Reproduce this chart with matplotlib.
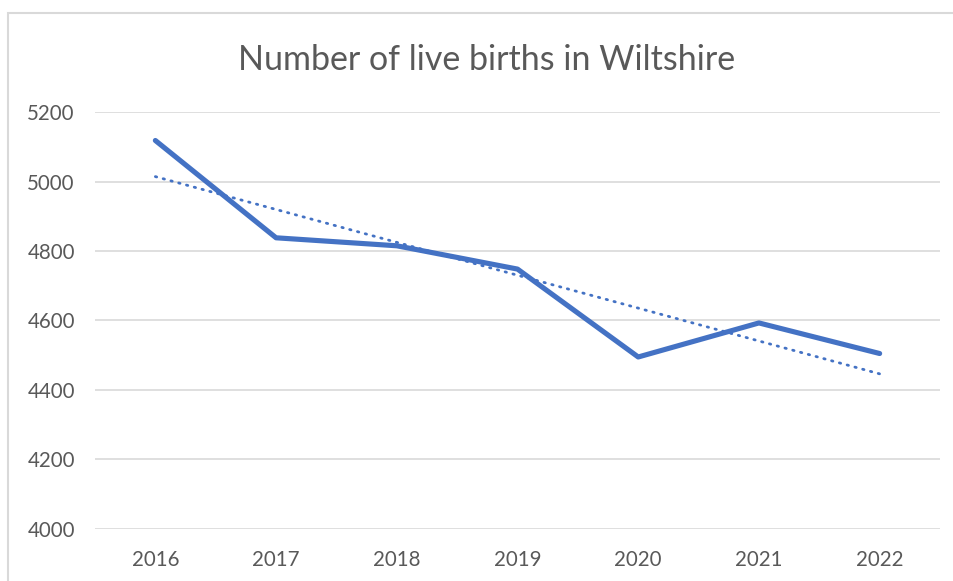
import matplotlib
matplotlib.use("Agg")
import matplotlib.pyplot as plt
import numpy as np
from matplotlib.patches import Rectangle

years = ["2016", "2017", "2018", "2019", "2020", "2021", "2022"]
births = [5118, 4838, 4815, 4748, 4495, 4593, 4505]
yticks = [4000, 4200, 4400, 4600, 4800, 5000, 5200]

W, H = 954, 581
fig = plt.figure(figsize=(W/100, H/100), dpi=100)
plt.rcParams['font.family'] = ['Lato', 'DejaVu Sans']
txt = '#595959'

# outer chart frame
fig.patches.append(Rectangle((8/W, -0.1), 1.2, 1 - 13/H + 0.1, transform=fig.transFigure,
                             fill=False, edgecolor='#D9D9D9', linewidth=1.5))

ax = fig.add_axes([95/W, 1 - 529/H, (940-95)/W, (529-112)/H])
x = np.arange(len(years))
ax.plot(x, births, color='#4472C4', linewidth=3.7, solid_capstyle='round', solid_joinstyle='round', zorder=3)

# linear trendline
coef = np.polyfit(x, births, 1)
trend = np.polyval(coef, x)
ax.plot(x, trend, color='#4472C4', linewidth=2.0, linestyle=(0, (0.5, 2.4)), dash_capstyle='round', zorder=2)

ax.set_xlim(-0.5, len(years) - 0.5)
ax.set_ylim(4000, 5200)
ax.set_yticks(yticks)
ax.set_yticklabels([str(v) for v in yticks])
ax.set_xticks(x)
ax.set_xticklabels(years)
ax.grid(axis='y', color='#D9D9D9', linewidth=1.2)
ax.set_axisbelow(True)
for s in ax.spines.values():
    s.set_visible(False)
ax.tick_params(axis='both', length=0, labelsize=14.8, colors=txt)
ax.tick_params(axis='y', pad=14.5)
ax.tick_params(axis='x', pad=15)

fig.text(487/W, 1 - 60/H, "Number of live births in Wiltshire", ha='center', va='center',
         fontsize=24.5, color=txt)

fig.savefig("out.png", dpi=100)
